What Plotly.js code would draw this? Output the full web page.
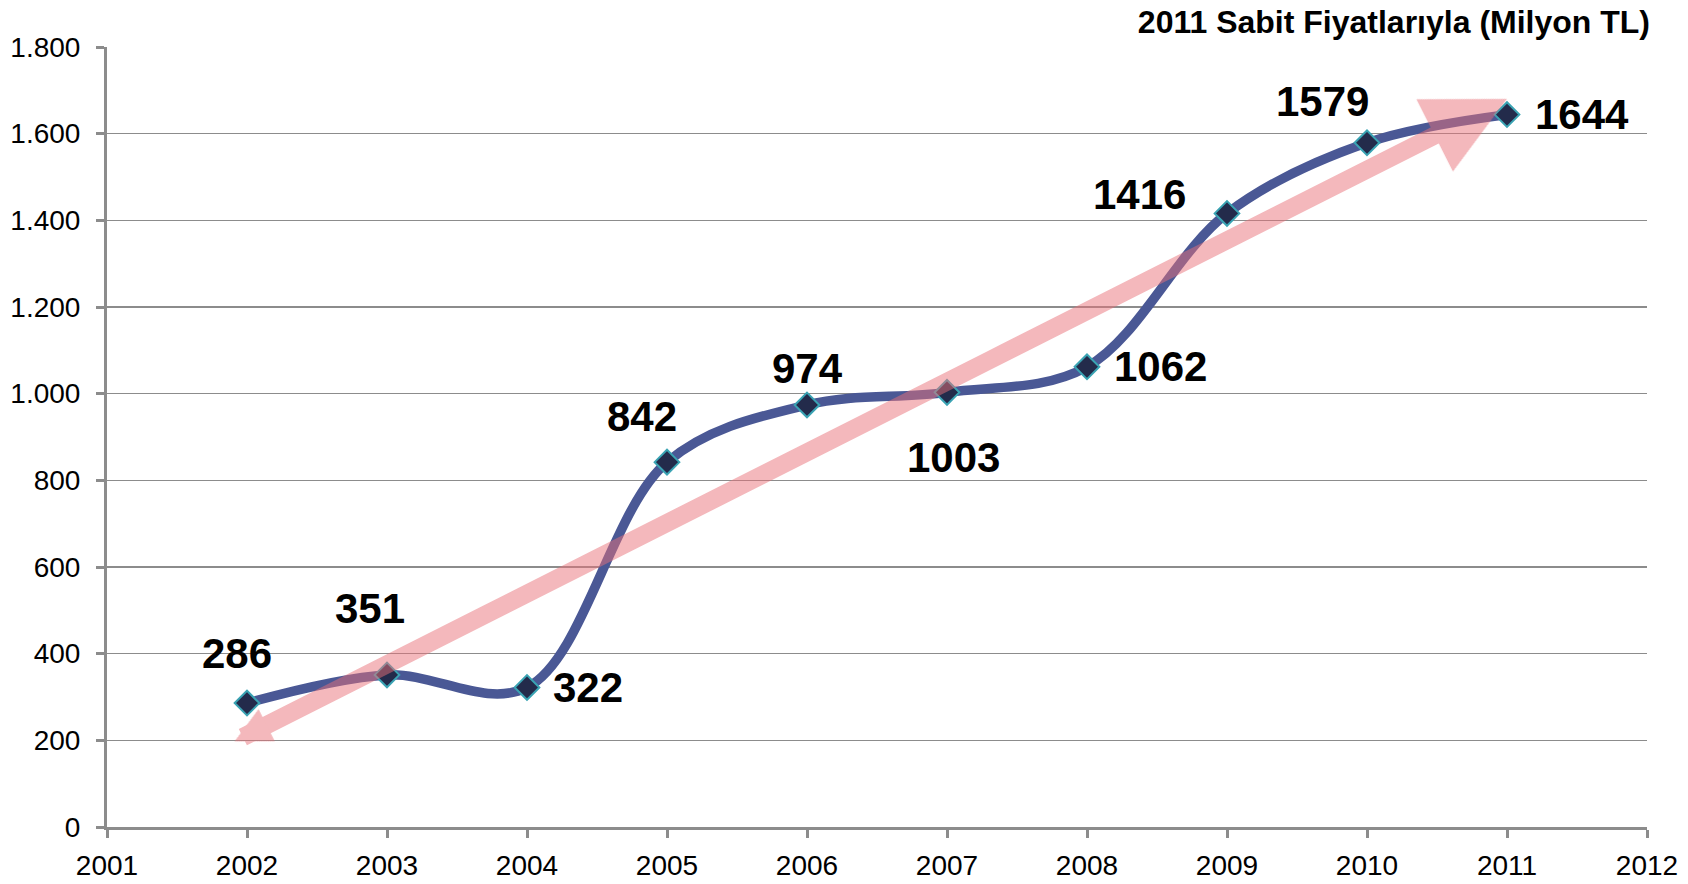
<!DOCTYPE html>
<html>
<head>
<meta charset="utf-8">
<script src="https://cdn.plot.ly/plotly-3.0.1.min.js"></script>
<style>html,body{margin:0;padding:0;background:#fff;}#chart{width:1688px;height:884px;}</style>
</head>
<body>
<div id="chart"></div>
<script>
// ---- data ----
var years = [2002, 2003, 2004, 2005, 2006, 2007, 2008, 2009, 2010, 2011];
var values = [286, 351, 322, 842, 974, 1003, 1062, 1416, 1579, 1644];
var chartTitle = "2011 Sabit Fiyatlarıyla (Milyon TL)";
var xTicks = [2001, 2002, 2003, 2004, 2005, 2006, 2007, 2008, 2009, 2010, 2011, 2012];
// trend arrow end points (tail -> head), data units
var trendX = [2001.9, 2011.0];
var trendY = [196, 1680];

// ---- label offsets (px, style only) ----
var labelDX = [-10, -17, 61, -25, 0, 6, 73, -88, -45, 75];
var labelDY = [50, 66, 0, 46, 36, -65, 0, 19, 41, 0];

var FONT = "Liberation Sans, Arial, Helvetica, sans-serif";
var GRAY = "#8c8c8c";

var trace = {
  x: years,
  y: values,
  type: "scatter",
  mode: "lines+markers",
  line: {shape: "spline", smoothing: 1, color: "#4a5895", width: 9.5},
  marker: {symbol: "diamond", size: 19, color: "#232b4b", line: {color: "#3aa3b3", width: 2}},
  hoverinfo: "x+y"
};

var annotations = years.map(function (yr, i) {
  return {
    x: yr, y: values[i], xref: "x", yref: "y",
    text: String(values[i]), showarrow: false,
    xshift: labelDX[i], yshift: labelDY[i],
    font: {family: FONT, size: 42, color: "#000", weight: "bold"}
  };
});

annotations.push({
  x: trendX[1], y: trendY[1], ax: trendX[0], ay: trendY[0],
  xref: "x", yref: "y", axref: "x", ayref: "y",
  text: "", showarrow: true,
  arrowhead: 2, arrowsize: 0.9, arrowwidth: 18,
  startarrowhead: 2, startarrowsize: 0.4, arrowside: "end+start",
  arrowcolor: "rgba(232,112,120,0.5)", standoff: 0, startstandoff: 0
});

var layout = {
  width: 1688, height: 884,
  margin: {l: 107, r: 41, t: 47, b: 57},
  paper_bgcolor: "#fff", plot_bgcolor: "#fff",
  separators: ",.",
  showlegend: false,
  title: {
    text: "<b>" + chartTitle + "</b>",
    x: 1650 / 1688, xanchor: "right", xref: "container",
    y: 1 - 22 / 884, yanchor: "middle", yref: "container",
    font: {family: FONT, size: 32, color: "#000"}
  },
  xaxis: {
    range: [2001, 2012], tickvals: xTicks, ticktext: xTicks.map(String),
    showgrid: false, zeroline: false,
    showline: true, linecolor: GRAY, linewidth: 3,
    ticks: "outside", ticklen: 8, tickwidth: 3, tickcolor: GRAY,
    ticklabelstandoff: 3,
    tickfont: {family: FONT, size: 28, color: "#000"}, fixedrange: true
  },
  yaxis: {
    range: [0, 1800], dtick: 200, tick0: 0, tickformat: ",d",
    showgrid: true, gridcolor: GRAY, gridwidth: 1.5, zeroline: false,
    showline: true, linecolor: GRAY, linewidth: 3,
    ticks: "outside", ticklen: 8, tickwidth: 3, tickcolor: GRAY,
    ticklabelstandoff: 10,
    tickfont: {family: FONT, size: 28, color: "#000"}, fixedrange: true
  },
  annotations: annotations
};

Plotly.newPlot("chart", [trace], layout, {displayModeBar: false, staticPlot: true});
</script>
</body>
</html>
